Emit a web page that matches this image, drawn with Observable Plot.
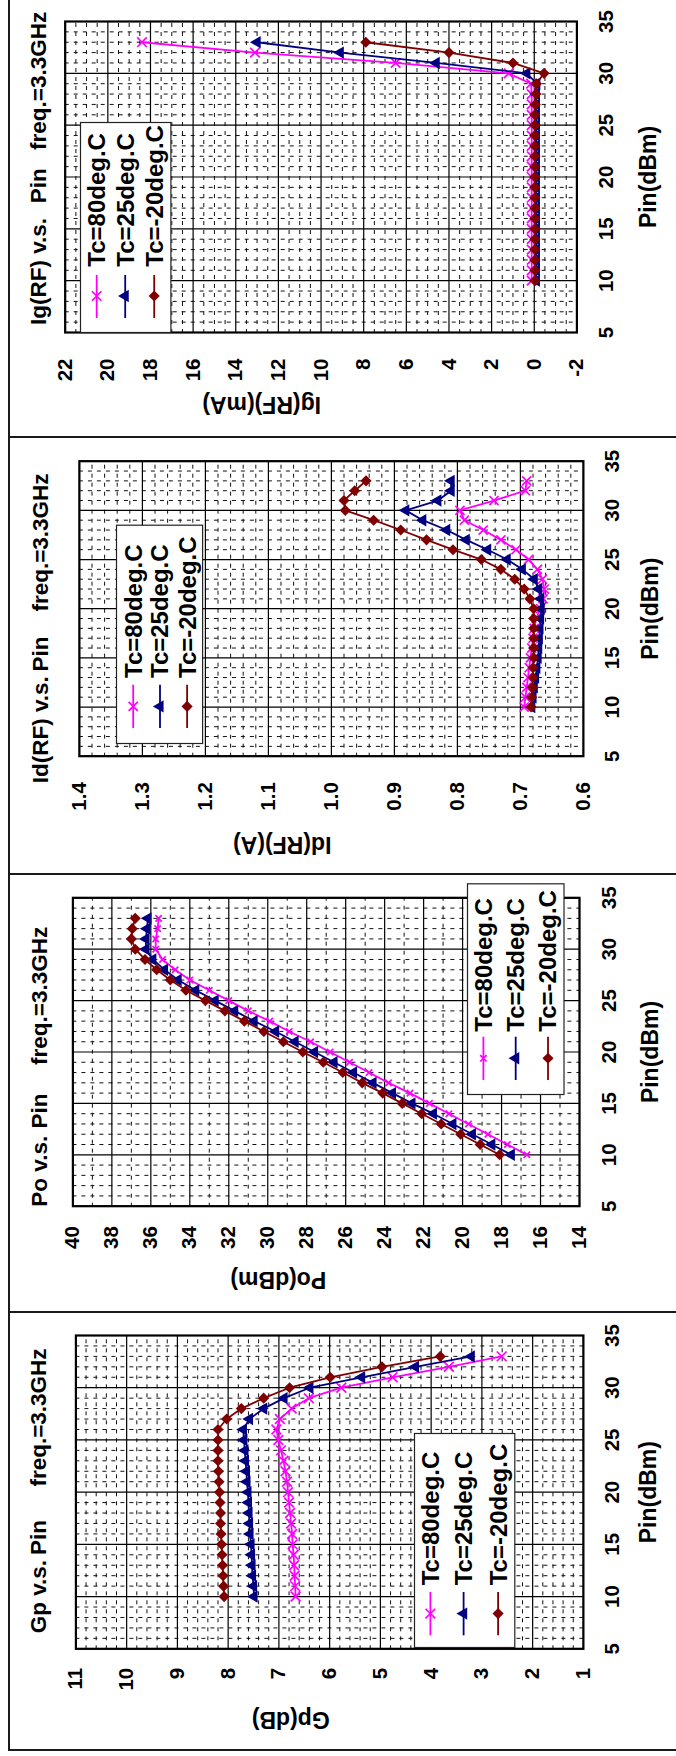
<!DOCTYPE html>
<html>
<head>
<meta charset="utf-8">
<script src="https://cdn.jsdelivr.net/npm/d3@7"></script>
<script src="https://cdn.jsdelivr.net/npm/@observablehq/plot@0.6"></script>
<style>
html,body{margin:0;padding:0;background:#fff;}
#page{position:relative;width:676px;height:1756px;overflow:hidden;background:#fff;font-family:"Liberation Sans",Arial,sans-serif;}
.panel{position:absolute;left:0;height:676px;transform-origin:0 0;}
.panel svg.plot-chart{position:absolute;left:0;top:0;background:transparent;}
.ttl{position:absolute;font:bold 22.5px "Liberation Sans",Arial,sans-serif;line-height:26px;white-space:pre;color:#000;}
.rule{position:absolute;background:#1a1a1a;z-index:5;}
</style>
</head>
<body>
<div id="page"></div>
<script>
// ---------------- data ----------------
const pins = [10,11,12,13,14,15,16,17,18,19,20,21,22,23,24,25,26,27,28,29,30,31,32,33];
const seriesNames = ["Tc=80deg.C", "Tc=25deg.C", "Tc=-20deg.C"];
const seriesColors = ["#ff00ff", "#000080", "#800000"];
const seriesSymbols = ["times", "triangle", "diamond2"];
const pinTicks = [5,10,15,20,25,30,35];

// Ig(RF) (mA)
const ig80  = [0.12,0.12,0.12,0.12,0.12,0.12,0.12,0.12,0.12,0.12,0.12,0.12,0.12,0.12,0.12,0.12,0.12,0.12,0.12,0.15,1.2,6.5,13.1,18.4];
const ig25  = [-0.1,-0.1,-0.1,-0.1,-0.1,-0.1,-0.1,-0.1,-0.1,-0.1,-0.1,-0.1,-0.1,-0.1,-0.1,-0.1,-0.1,-0.1,-0.1,-0.12,0.35,4.6,9.1,13.0];
const igM20 = [-0.03,-0.03,-0.03,-0.03,-0.03,-0.03,-0.03,-0.03,-0.03,-0.03,-0.03,-0.03,-0.03,-0.03,-0.03,-0.03,-0.03,-0.05,-0.08,-0.1,-0.46,1.0,4.0,7.9];
const igTicks = [-2,0,2,4,6,8,10,12,14,16,18,20,22];

// Id(RF) (A)
const id80  = [0.694,0.692,0.690,0.688,0.686,0.684,0.682,0.680,0.678,0.675,0.668,0.664,0.662,0.665,0.673,0.687,0.707,0.731,0.759,0.789,0.796,0.742,0.692,0.690];
const id25  = [0.682,0.680,0.678,0.676,0.674,0.672,0.671,0.670,0.669,0.668,0.667,0.668,0.671,0.678,0.697,0.721,0.752,0.786,0.817,0.855,0.882,0.831,0.810,0.810];
const idM20 = [0.683,0.682,0.681,0.680,0.680,0.679,0.679,0.679,0.679,0.679,0.679,0.685,0.694,0.709,0.731,0.762,0.807,0.849,0.890,0.933,0.978,0.980,0.963,0.945];
const idTicks = [0.6,0.7,0.8,0.9,1.0,1.1,1.2,1.3,1.4];

// Po (dBm)
const po80  = [16.7,17.7,18.7,19.7,20.7,21.7,22.7,23.8,24.8,25.8,26.8,27.8,28.9,29.9,31.0,32.0,33.0,34.0,34.75,35.4,35.75,35.75,35.65,35.6];
const po25  = [17.5,18.5,19.5,20.5,21.5,22.6,23.6,24.6,25.6,26.6,27.6,28.6,29.6,30.7,31.7,32.7,33.7,34.6,35.3,35.9,36.25,36.25,36.2,36.15];
const poM20 = [18.1,19.1,20.1,21.1,22.1,23.1,24.1,25.15,26.15,27.15,28.2,29.2,30.2,31.2,32.2,33.2,34.2,35.0,35.7,36.3,36.8,37.0,36.95,36.8];
const poTicks = [14,16,18,20,22,24,26,28,30,32,34,36,38,40];

// Gp (dB)
const gp80  = [6.67,6.68,6.69,6.70,6.71,6.73,6.74,6.76,6.78,6.80,6.82,6.84,6.87,6.91,6.96,7.01,7.05,6.98,6.75,6.41,5.77,4.76,3.65,2.61];
const gp25  = [7.49,7.50,7.52,7.53,7.54,7.55,7.57,7.58,7.59,7.60,7.61,7.63,7.64,7.66,7.67,7.69,7.70,7.58,7.30,6.90,6.39,5.37,4.31,3.21];
const gpM20 = [8.08,8.09,8.10,8.11,8.12,8.13,8.14,8.15,8.15,8.16,8.17,8.18,8.19,8.20,8.20,8.20,8.20,8.03,7.74,7.30,6.79,5.99,4.97,3.82];
const gpTicks = [1,2,3,4,5,6,7,8,9,10,11];

const titleIg = ["Ig(RF) v.s.", "Pin", "freq.=3.3GHz"];
const titleId = ["Id(RF) v.s.", "Pin", "freq.=3.3GHz"];
const titlePo = ["Po v.s.", "Pin", "freq.=3.3GHz"];
const titleGp = ["Gp v.s.", "Pin", "freq.=3.3GHz"];

// ---------------- layout (unrotated panel coordinates) ----------------
const panels = [
  {T:0, W:437, mt:64.7, mr:22, mb:99.6, ml:104, domain:[-2,22], ticks:igTicks, minor:0.5, fmt:d=>String(d), yPad:26,
   series:[ig80,ig25,igM20], yLabel:"Ig(RF)(mA)", yLabelDx:-72, xLabelDy:79,
   title:titleIg, titleU:112, titleV:39, titleOff:[0,121.7,175],
   lg:{u0:104,u1:315,v0:79.8,v1:171.2,rows:[96.5,125,154],line:[119,162],mark:141,text:170.3}, magR:4.4},
  {T:437, W:437, mt:78.9, mr:24.7, mb:93.1, ml:117.3, domain:[0.6,1.4], ticks:idTicks, minor:0.02, fmt:d3.format(".1f"), yPad:26,
   series:[id80,id25,idM20], yLabel:"Id(RF)(A)", yLabelDx:-88, xLabelDy:74.6,
   title:titleId, titleU:90.7, titleV:41, titleOff:[0,111.7,171.7],
   lg:{u0:129.7,u1:349,v0:116.4,v1:203.5,rows:[133.6,160.4,187.5],line:[145.7,189],mark:167.3,text:195.7}, magR:4.2},
  {T:874, W:438, mt:72.4, mr:24.3, mb:97, ml:105.3, domain:[14,40], ticks:poTicks, minor:1, fmt:d=>String(d), yPad:20,
   series:[po80,po25,poM20], yLabel:"Po(dBm)", yLabelDx:-73, xLabelDy:78.5,
   title:titlePo, titleU:105.3, titleV:40, titleOff:[0,78.3,141.7],
   lg:{u0:217,u1:428.7,v0:466.5,v1:564,rows:[482.9,515.2,547.5],line:[232,275.3],mark:253.7,text:280.3}, magR:3.0},
  {T:1312, W:438, mt:75.4, mr:24, mb:93.1, ml:100.7, domain:[1,11], ticks:gpTicks, minor:0.2, fmt:d=>String(d), yPad:19,
   series:[gp80,gp25,gpM20], yLabel:"Gp(dB)", yLabelDx:-71, xLabelDy:72.4,
   title:titleGp, titleU:116.7, titleV:39, titleOff:[0,78.3,146.7],
   lg:{u0:102.3,u1:317.3,v0:413.9,v1:515.2,rows:[430.3,463.5,498],line:[115,158.3],mark:136.7,text:165}, magR:4.5}
];

const page = document.getElementById("page");
const H = 676;
const TICK_FONT = 20.5;
const FONT = "'Liberation Sans', Arial, sans-serif";

panels.forEach(cfg => {
  const wrap = document.createElement("div");
  wrap.className = "panel";
  wrap.style.top = cfg.T + "px";
  wrap.style.width = cfg.W + "px";
  wrap.style.transform = `translate(0px, ${cfg.W}px) rotate(-90deg)`;

  const [lo, hi] = cfg.domain;
  const minorY = d3.range(lo, hi + 1e-9, cfg.minor).filter(v => !cfg.ticks.some(t => Math.abs(t - v) < 1e-6));
  const minorX = d3.range(5, 35.0001, 1).filter(v => !pinTicks.includes(v));
  const rs = [cfg.magR, 4.6, 5.0];

  const marks = [
    Plot.ruleX(minorX, {stroke: "#111", strokeWidth: 1, strokeDasharray: "4,5"}),
    Plot.ruleY(minorY, {stroke: "#111", strokeWidth: 1, strokeDasharray: "4,5"}),
    Plot.ruleX(pinTicks, {stroke: "#000", strokeWidth: 1.2}),
    Plot.ruleY(cfg.ticks, {stroke: "#000", strokeWidth: 1.2})
  ];
  cfg.series.forEach((vals, si) => {
    const rows = pins.map((p, i) => ({pin: p, v: vals[i]}));
    marks.push(Plot.line(rows, {x: "pin", y: "v", stroke: seriesColors[si], strokeWidth: 1.8}));
    if (seriesSymbols[si] === "times") {
      marks.push(Plot.dot(rows, {x: "pin", y: "v", symbol: "times", stroke: seriesColors[si], strokeWidth: 1.7, r: rs[si]}));
    } else {
      marks.push(Plot.dot(rows, {x: "pin", y: "v", symbol: seriesSymbols[si], fill: seriesColors[si], stroke: "none", r: rs[si]}));
    }
  });
  marks.push(Plot.frame({stroke: "#000", strokeWidth: 2.2}));
  // tick labels (drawn through the scales)
  marks.push(Plot.text(pinTicks, {x: d => d, text: d => String(d), frameAnchor: "bottom", dy: 36,
    fontSize: TICK_FONT, fontWeight: "bold", fontFamily: FONT, fill: "#000"}));
  marks.push(Plot.text(cfg.ticks, {y: d => d, text: cfg.fmt, frameAnchor: "left", dx: -cfg.yPad, textAnchor: "end",
    fontSize: TICK_FONT, fontWeight: "bold", fontFamily: FONT, fill: "#000"}));
  // axis titles
  marks.push(Plot.text(["Pin(dBm)"], {text: d => d, frameAnchor: "bottom", dy: cfg.xLabelDy, fontSize: 23, fontWeight: "bold", fontFamily: FONT, fill: "#000"}));
  marks.push(Plot.text([cfg.yLabel], {text: d => d, frameAnchor: "left", rotate: -90, dx: cfg.yLabelDx, fontSize: 23, fontWeight: "bold", fontFamily: FONT, fill: "#000"}));

  const chart = Plot.plot({
    width: cfg.W, height: H,
    marginTop: cfg.mt, marginRight: cfg.mr, marginBottom: cfg.mb, marginLeft: cfg.ml,
    style: {fontFamily: FONT, background: "transparent", color: "#000", overflow: "visible"},
    x: {domain: [5, 35], axis: null},
    y: {domain: cfg.domain, axis: null},
    marks
  });
  chart.classList.add("plot-chart");
  wrap.appendChild(chart);

  // title
  cfg.title.forEach((t, i) => {
    const s = document.createElement("div");
    s.className = "ttl";
    s.textContent = t;
    s.style.left = (cfg.titleU + cfg.titleOff[i]) + "px";
    s.style.top = (cfg.titleV - 13) + "px";
    wrap.appendChild(s);
  });

  // legend
  const L = cfg.lg;
  const w = L.u1 - L.u0, h = L.v1 - L.v0;
  const lg = d3.create("svg")
    .attr("width", w).attr("height", h)
    .style("position", "absolute").style("left", L.u0 + "px").style("top", L.v0 + "px")
    .style("overflow", "visible");
  lg.append("rect").attr("x", 0.5).attr("y", 0.5).attr("width", w - 1).attr("height", h - 1)
    .attr("fill", "#fff").attr("stroke", "#222").attr("stroke-width", 1.2);
  const symMap = {times: d3.symbolTimes, triangle: d3.symbolTriangle, diamond2: d3.symbolDiamond2};
  L.rows.forEach((rv, si) => {
    const y = rv - L.v0;
    lg.append("line").attr("x1", L.line[0] - L.u0).attr("x2", L.line[1] - L.u0)
      .attr("y1", y).attr("y2", y).attr("stroke", seriesColors[si]).attr("stroke-width", 1.8);
    const path = d3.symbol(symMap[seriesSymbols[si]], Math.PI * rs[si] * rs[si])();
    const p = lg.append("path").attr("d", path).attr("transform", `translate(${L.mark - L.u0},${y})`);
    if (seriesSymbols[si] === "times") p.attr("fill", "none").attr("stroke", seriesColors[si]).attr("stroke-width", 1.7);
    else p.attr("fill", seriesColors[si]);
    lg.append("text").attr("x", L.text - L.u0).attr("y", y).attr("dy", "0.35em")
      .attr("font-family", FONT).attr("font-weight", "bold")
      .attr("font-size", 24).attr("fill", "#000").text(seriesNames[si]);
  });
  wrap.appendChild(lg.node());

  page.appendChild(wrap);
});

// page borders (drawn on top)
function rule(x, y, w, h) {
  const d = document.createElement("div");
  d.className = "rule";
  d.style.left = x + "px"; d.style.top = y + "px";
  d.style.width = w + "px"; d.style.height = h + "px";
  page.appendChild(d);
}
rule(7.6, 0, 2, 1751);
[436, 873, 1311, 1749].forEach(y => rule(7.6, y, 676, 2));
</script>
</body>
</html>
